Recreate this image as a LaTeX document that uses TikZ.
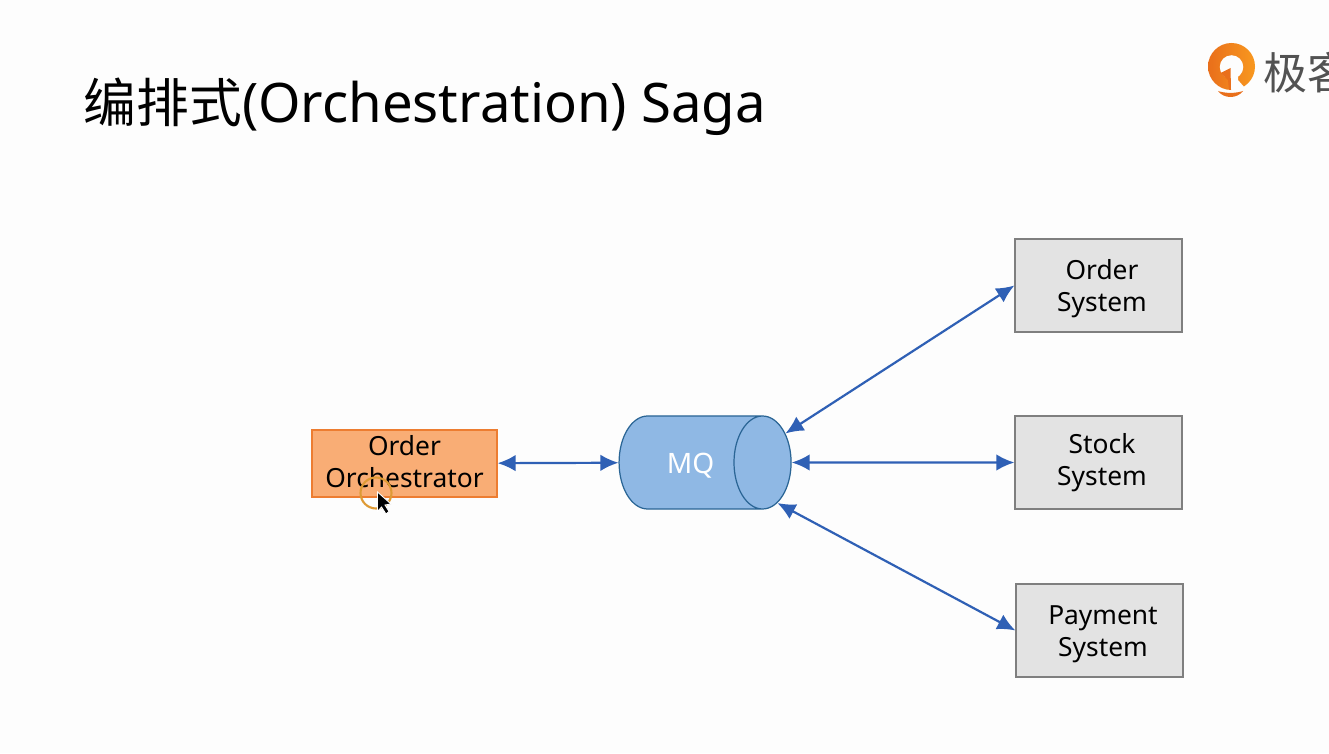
\documentclass[tikz,border=0pt]{standalone}
\usepackage{fontspec}
\setmainfont{Noto Sans}
\newfontfamily\cjk{Noto Sans CJK SC}
\usetikzlibrary{arrows.meta,shapes.geometric}
\definecolor{sysgray}{HTML}{E3E3E3}
\definecolor{sysline}{HTML}{7F7F7F}
\definecolor{orchfill}{HTML}{F9AD75}
\definecolor{orchline}{HTML}{ED7D31}
\definecolor{mqfill}{HTML}{8FB8E4}
\definecolor{mqline}{HTML}{2A6595}
\definecolor{linkblue}{HTML}{2F60B5}
\definecolor{logodark}{HTML}{E96F1B}
\definecolor{logoorange}{HTML}{F8981F}
\definecolor{ringorange}{HTML}{DE9A35}
\definecolor{pagewhite}{HTML}{FDFDFD}
\tikzset{
	sysbox/.style={draw=sysline, fill=sysgray, line width=0.7pt, minimum width=3.34cm, minimum height=1.86cm, align=center, font=\fontsize{15}{18.2}\selectfont},
	orchbox/.style={draw=orchline, fill=orchfill, line width=0.7pt, minimum width=3.7cm, minimum height=1.34cm, align=center, inner sep=0pt, font=\fontsize{15}{18.2}\selectfont},
	mqcyl/.style={cylinder, shape border rotate=0, aspect=2.9, draw=mqline, line width=0.7pt, cylinder uses custom fill, cylinder body fill=mqfill, cylinder end fill=mqfill, minimum height=3.44cm, minimum width=1.86cm, inner sep=0pt, text=white, font=\fontsize{16}{18.2}\selectfont},
	link/.style={{Latex[length=0.36cm,width=0.33cm]}-{Latex[length=0.36cm,width=0.33cm]}, draw=linkblue, line width=1.25pt},
}
\def\nudge{\hspace*{0.14cm}}
\def\lift#1{\rule{0pt}{#1}}
\def\drop#1{\rule[-#1]{0pt}{0pt}}

\begin{document}
\begin{tikzpicture}
	%%%%% START %%%%%

	\useasboundingbox (0, 0) rectangle (26.58, 15.06);
	\fill[pagewhite] (0, 0) rectangle (26.58, 15.06);

	\node[anchor=west, inner sep=0pt, font=\fontsize{31}{36}\selectfont] (title) at (1.67, 12.93) {{\cjk\fontsize{30}{36}\selectfont 编排式}(Orchestration) Saga};

	% logo
	\shade[left color=logodark, right color=logoorange] (24.63, 13.73) circle (0.47);
	\fill[pagewhite] (24.63, 13.72) circle (0.235);
	\fill[pagewhite] (24.62, 13.6) -- (24.62, 13.2) -- (24.92, 13.2) -- (24.9, 13.3) -- (24.76, 13.46) -- (24.76, 13.6) -- cycle;
	\fill[logodark] (24.61, 13.7) -- (24.41, 13.6) -- (24.56, 13.46) -- (24.58, 13.26) -- (24.62, 13.26) -- cycle;
	\fill[logodark] (24.36, 13.24) .. controls (24.48, 13.08) and (24.74, 13.08) .. (24.86, 13.24) .. controls (24.72, 13.19) and (24.5, 13.19) .. (24.36, 13.24);
	\begin{scope}
		\clip (25, 12) rectangle (26.58, 15.06);
		\node[anchor=west, inner sep=0pt, text=black!68, font=\cjk\fontsize{25}{30}\selectfont] (logotext) at (25.27, 13.6) {极客};
	\end{scope}

	\node[orchbox] (orch) at (8.09, 5.79) {Order\\Orchestrator\drop{2.3pt}};
	\node[mqcyl] (mq) at (13.81, 5.81) {\raisebox{-0.6pt}[0.7em][0pt]{MQ}};
	\node[sysbox] (ordersys) at (21.97, 9.35) {\lift{15pt}\nudge Order\\\nudge System};
	\node[sysbox] (stocksys) at (21.97, 5.81) {\nudge Stock\\\nudge System};
	\node[sysbox] (paysys) at (21.99, 2.45) {\lift{15pt}\nudge Payment\\\nudge System};

	\draw[link] (orch) -- (mq);
	\draw[link] (mq.17) -- (ordersys.west);
	\draw[link] (mq.east) -- (stocksys.west);
	\draw[link] (mq.-25) -- (paysys.west);

	% cursor
	\draw[ringorange, line width=1.2pt] (7.52, 5.2) circle (0.31);
	\draw[white, fill=black, line width=0.5pt] (7.55, 5.22) -- (7.55, 4.83) -- (7.63, 4.92) -- (7.72, 4.78) -- (7.78, 4.83) -- (7.7, 4.96) -- (7.82, 4.98) -- cycle;

	%%%%% END %%%%%
\end{tikzpicture}
\end{document}
